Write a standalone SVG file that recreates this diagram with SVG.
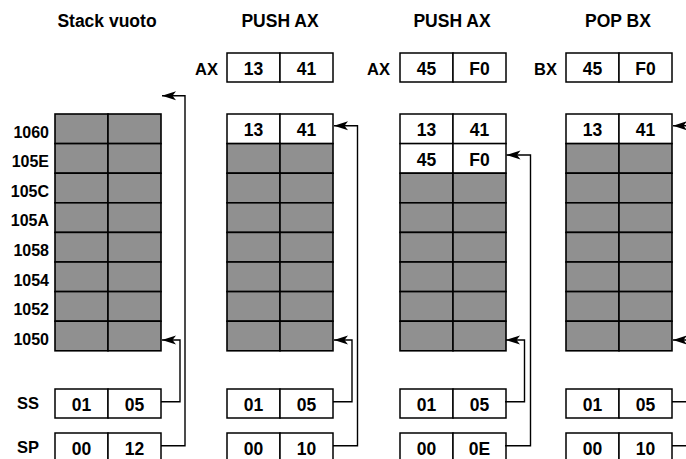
<svg xmlns="http://www.w3.org/2000/svg" width="686" height="459" viewBox="0 0 686 459">
<defs>
<style>
text{font-family:"Liberation Sans",Arial,sans-serif;font-weight:bold;fill:#000}
.t{font-size:17.5px;text-anchor:middle}
.lab{font-size:16px;text-anchor:end}
.labs{font-size:16.5px;text-anchor:start}
.v{font-size:17.5px;text-anchor:middle}
.g{fill:#909090;stroke:#000;stroke-width:1.6}
.w{fill:#fff;stroke:#000;stroke-width:1.5}
.c{fill:none;stroke:#000;stroke-width:1.4}
</style>
<marker id="ah" markerUnits="userSpaceOnUse" markerWidth="15" markerHeight="10" refX="14" refY="5" orient="auto">
<path d="M0,0.5 L14,5 L0,9.5 L3.5,5 z" fill="#000"/>
</marker>
<g id="grayrow"><rect class="g" x="0" y="0" width="53" height="29.6"/><rect class="g" x="53" y="0" width="53" height="29.6"/></g>
<g id="whitecell"><rect class="w" x="0" y="0" width="53" height="29.6"/><rect class="w" x="53" y="0" width="53" height="29.6"/></g>
<g id="reg"><rect class="w" x="0" y="0" width="53" height="29"/><rect class="w" x="53" y="0" width="53" height="29"/></g>
</defs>
<rect width="686" height="459" fill="#fff"/>

<g id="titles">
<text class="t" x="107" y="27">Stack vuoto</text>
<text class="t" x="280" y="27">PUSH AX</text>
<text class="t" x="452" y="27">PUSH AX</text>
<text class="t" x="618" y="27">POP BX</text>
</g>

<g id="addresses">
<text class="lab" x="49" y="137.6">1060</text>
<text class="lab" x="49" y="167.2">105E</text>
<text class="lab" x="49" y="196.8">105C</text>
<text class="lab" x="49" y="226.4">105A</text>
<text class="lab" x="49" y="256">1058</text>
<text class="lab" x="49" y="285.6">1054</text>
<text class="lab" x="49" y="315.2">1052</text>
<text class="lab" x="49" y="344.8">1050</text>
<text class="labs" x="17" y="409">SS</text>
<text class="labs" x="17" y="453">SP</text>
</g>

<g id="stack1">
<use href="#grayrow" x="55" y="114"/>
<use href="#grayrow" x="55" y="143.6"/>
<use href="#grayrow" x="55" y="173.2"/>
<use href="#grayrow" x="55" y="202.8"/>
<use href="#grayrow" x="55" y="232.4"/>
<use href="#grayrow" x="55" y="262"/>
<use href="#grayrow" x="55" y="291.6"/>
<use href="#grayrow" x="55" y="321.2"/>
</g>
<g id="ss1"><use href="#reg" x="55" y="389"/><text class="v" x="81.5" y="411">01</text><text class="v" x="134.5" y="411">05</text></g>
<g id="sp1"><use href="#reg" x="55" y="433"/><text class="v" x="81.5" y="455">00</text><text class="v" x="134.5" y="455">12</text></g>

<g id="ax2"><text class="labs" x="195" y="75">AX</text><use href="#reg" x="227" y="53"/><text class="v" x="253.5" y="75">13</text><text class="v" x="306.5" y="75">41</text></g>
<g id="stack2">
<use href="#whitecell" x="227" y="114"/>
<text class="v" x="253.5" y="136">13</text><text class="v" x="306.5" y="136">41</text>
<use href="#grayrow" x="227" y="143.6"/>
<use href="#grayrow" x="227" y="173.2"/>
<use href="#grayrow" x="227" y="202.8"/>
<use href="#grayrow" x="227" y="232.4"/>
<use href="#grayrow" x="227" y="262"/>
<use href="#grayrow" x="227" y="291.6"/>
<use href="#grayrow" x="227" y="321.2"/>
</g>
<g id="ss2"><use href="#reg" x="227" y="389"/><text class="v" x="253.5" y="411">01</text><text class="v" x="306.5" y="411">05</text></g>
<g id="sp2"><use href="#reg" x="227" y="433"/><text class="v" x="253.5" y="455">00</text><text class="v" x="306.5" y="455">10</text></g>

<g id="ax3"><text class="labs" x="367" y="75">AX</text><use href="#reg" x="400" y="53"/><text class="v" x="426.5" y="75">45</text><text class="v" x="479.5" y="75">F0</text></g>
<g id="stack3">
<use href="#whitecell" x="400" y="114"/>
<text class="v" x="426.5" y="136">13</text><text class="v" x="479.5" y="136">41</text>
<use href="#whitecell" x="400" y="143.6"/>
<text class="v" x="426.5" y="165.6">45</text><text class="v" x="479.5" y="165.6">F0</text>
<use href="#grayrow" x="400" y="173.2"/>
<use href="#grayrow" x="400" y="202.8"/>
<use href="#grayrow" x="400" y="232.4"/>
<use href="#grayrow" x="400" y="262"/>
<use href="#grayrow" x="400" y="291.6"/>
<use href="#grayrow" x="400" y="321.2"/>
</g>
<g id="ss3"><use href="#reg" x="400" y="389"/><text class="v" x="426.5" y="411">01</text><text class="v" x="479.5" y="411">05</text></g>
<g id="sp3"><use href="#reg" x="400" y="433"/><text class="v" x="426.5" y="455">00</text><text class="v" x="479.5" y="455">0E</text></g>

<g id="bx4"><text class="labs" x="534" y="75">BX</text><use href="#reg" x="566" y="53"/><text class="v" x="592.5" y="75">45</text><text class="v" x="645.5" y="75">F0</text></g>
<g id="stack4">
<use href="#whitecell" x="566" y="114"/>
<text class="v" x="592.5" y="136">13</text><text class="v" x="645.5" y="136">41</text>
<use href="#grayrow" x="566" y="143.6"/>
<use href="#grayrow" x="566" y="173.2"/>
<use href="#grayrow" x="566" y="202.8"/>
<use href="#grayrow" x="566" y="232.4"/>
<use href="#grayrow" x="566" y="262"/>
<use href="#grayrow" x="566" y="291.6"/>
<use href="#grayrow" x="566" y="321.2"/>
</g>
<g id="ss4"><use href="#reg" x="566" y="389"/><text class="v" x="592.5" y="411">01</text><text class="v" x="645.5" y="411">05</text></g>
<g id="sp4"><use href="#reg" x="566" y="433"/><text class="v" x="592.5" y="455">00</text><text class="v" x="645.5" y="455">10</text></g>

<g id="connectors">
<polyline class="c" points="161,445.7 185,445.7 185,95.7 162,95.7" marker-end="url(#ah)"/>
<polyline class="c" points="161,401.7 180,401.7 180,340 162,340" marker-end="url(#ah)"/>
<polyline class="c" points="333,445.7 357.5,445.7 357.5,125.7 334,125.7" marker-end="url(#ah)"/>
<polyline class="c" points="333,401.7 352,401.7 352,340 334,340" marker-end="url(#ah)"/>
<polyline class="c" points="505,445.7 530.5,445.7 530.5,155 506.5,155" marker-end="url(#ah)"/>
<polyline class="c" points="505,401.7 524.5,401.7 524.5,340 506,340" marker-end="url(#ah)"/>
<polyline class="c" points="672,445.7 700,445.7 700,125.7 673,125.7" marker-end="url(#ah)"/>
<polyline class="c" points="672,401.7 694,401.7 694,340 673,340" marker-end="url(#ah)"/>
</g>
</svg>
